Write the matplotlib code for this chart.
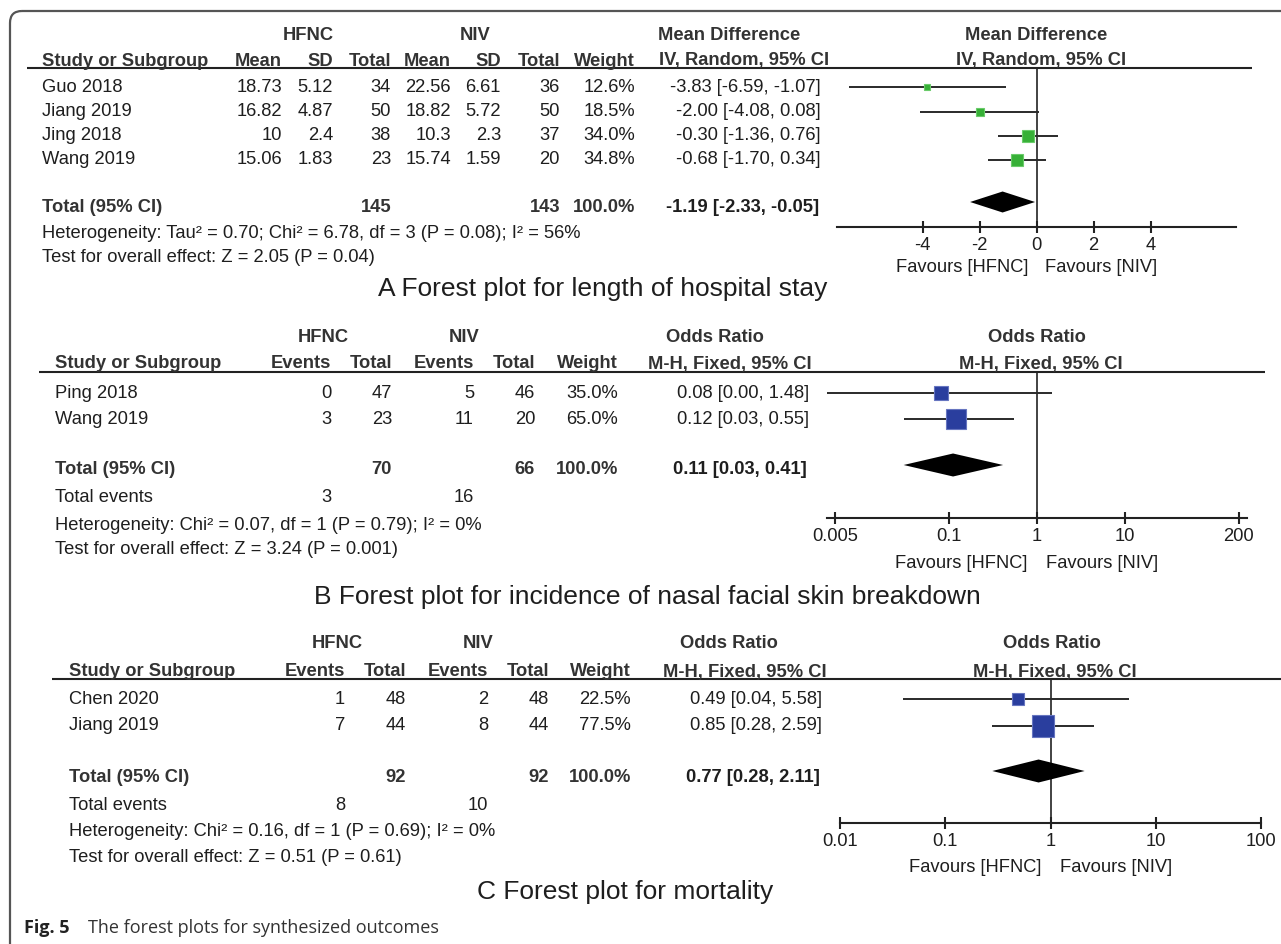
import numpy as np
import matplotlib
matplotlib.use("Agg")
from matplotlib import pyplot as plt
from matplotlib.patches import FancyBboxPatch
from matplotlib.ticker import NullLocator

# ---- data: A, length of hospital stay (mean difference) ----
a_study = ["Guo 2018", "Jiang 2019", "Jing 2018", "Wang 2019"]
a_hfnc_mean = [18.73, 16.82, 10, 15.06]
a_hfnc_sd = [5.12, 4.87, 2.4, 1.83]
a_hfnc_n = [34, 50, 38, 23]
a_niv_mean = [22.56, 18.82, 10.3, 15.74]
a_niv_sd = [6.61, 5.72, 2.3, 1.59]
a_niv_n = [36, 50, 37, 20]
a_weight = [12.6, 18.5, 34.0, 34.8]
a_md = [-3.83, -2.00, -0.30, -0.68]
a_lo = [-6.59, -4.08, -1.36, -1.70]
a_hi = [-1.07, 0.08, 0.76, 0.34]
a_total = (145, 143, -1.19, -2.33, -0.05)
a_het = "Heterogeneity: Tau² = 0.70; Chi² = 6.78, df = 3 (P = 0.08); I² = 56%"
a_test = "Test for overall effect: Z = 2.05 (P = 0.04)"
a_ticks = [-4, -2, 0, 2, 4]

# ---- data: B, nasal facial skin breakdown (odds ratio) ----
b_study = ["Ping 2018", "Wang 2019"]
b_hfnc_ev = [0, 3]
b_hfnc_n = [47, 23]
b_niv_ev = [5, 11]
b_niv_n = [46, 20]
b_weight = [35.0, 65.0]
b_or = [0.08, 0.12]
b_lo = [0.00, 0.03]
b_hi = [1.48, 0.55]
b_total = (70, 66, 0.11, 0.03, 0.41)
b_events = (3, 16)
b_het = "Heterogeneity: Chi² = 0.07, df = 1 (P = 0.79); I² = 0%"
b_test = "Test for overall effect: Z = 3.24 (P = 0.001)"
b_ticks = [0.005, 0.1, 1, 10, 200]
b_ticklabels = ["0.005", "0.1", "1", "10", "200"]

# ---- data: C, mortality (odds ratio) ----
c_study = ["Chen 2020", "Jiang 2019"]
c_hfnc_ev = [1, 7]
c_hfnc_n = [48, 44]
c_niv_ev = [2, 8]
c_niv_n = [48, 44]
c_weight = [22.5, 77.5]
c_or = [0.49, 0.85]
c_lo = [0.04, 0.28]
c_hi = [5.58, 2.59]
c_total = (92, 92, 0.77, 0.28, 2.11)
c_events = (8, 10)
c_het = "Heterogeneity: Chi² = 0.16, df = 1 (P = 0.69); I² = 0%"
c_test = "Test for overall effect: Z = 0.51 (P = 0.61)"
c_ticks = [0.01, 0.1, 1, 10, 100]
c_ticklabels = ["0.01", "0.1", "1", "10", "100"]

W, H = 1281, 944
FAM = ["Liberation Sans Narrow", "Liberation Sans", "DejaVu Sans"]
FS = 13.2
CAPFS = 19
TXT = "#1e1e1e"
HDR = "#333333"
GREEN, GREEN_E = "#37b037", "#6acb6a"
BLUE, BLUE_E = "#2a3e9e", "#6675c0"

fig = plt.figure(figsize=(W / 100, H / 100), dpi=100)
base = fig.add_axes([0, 0, 1, 1])
base.set_xlim(0, W)
base.set_ylim(H, 0)
base.axis("off")

border = FancyBboxPatch((10, 11), W + 40, H + 40, boxstyle="round,pad=0,rounding_size=12",
                        fc="none", ec="#555555", lw=1.6)
base.add_patch(border)


def T(x, y, s, ha="left", bold=False, size=FS, color=None, family=FAM):
    base.text(x, y, s, ha=ha, va="center", fontsize=size, family=family,
              fontweight="bold" if bold else "normal",
              color=color or (HDR if bold else TXT))


def hline(x0, x1, y):
    base.plot([x0, x1], [y, y], color="#222222", lw=1.5, solid_capstyle="butt")


def forest_ax(x0, x1, ytop, ybot, xlim, log, ticks, labels):
    ax = fig.add_axes([x0 / W, 1 - ybot / H, (x1 - x0) / W, (ybot - ytop) / H])
    if log:
        ax.set_xscale("log")
    ax.set_xlim(*xlim)
    ax.set_ylim(ybot, ytop)
    ax.patch.set_alpha(0)
    for s in ["left", "right", "top"]:
        ax.spines[s].set_visible(False)
    ax.spines["bottom"].set_linewidth(1.5)
    ax.spines["bottom"].set_color("#222222")
    ax.set_yticks([])
    ax.set_xticks(ticks)
    ax.set_xticklabels(labels, family=FAM, fontsize=FS, color=TXT)
    ax.xaxis.set_minor_locator(NullLocator())
    ax.tick_params(axis="x", direction="inout", length=8.5, width=1.5, color="#222222", pad=3)
    ax.axvline(1 if log else 0, color="#222222", lw=1.2)
    return ax


def draw_studies(ax, est, lo, hi, weight, rows, k, fc, ec):
    xmin = ax.get_xlim()[0]
    for e, l, h, w, y in zip(est, lo, hi, weight, rows):
        ax.plot([max(l, xmin), h], [y, y], color="#2a2a2a", lw=1.4, solid_capstyle="butt", zorder=2)
        ax.plot(e, y, marker="s", ms=k * np.sqrt(w) * 0.72, mfc=fc, mec=ec, mew=0.8, zorder=3)


def diamond(ax, c, l, h, y, ht):
    ax.fill([l, c, h, c], [y, y - ht / 2, y, y + ht / 2], color="black", lw=0, zorder=3)


def ci_text(e, l, h):
    return f"{e:.2f} [{l:.2f}, {h:.2f}]"


# ================= Panel A =================
rows = [87, 112, 136, 160]
T(308, 36, "HFNC", "center", True)
T(475, 36, "NIV", "center", True)
T(729, 36, "Mean Difference", "center", True)
T(1036, 36, "Mean Difference", "center", True)
cols = [282, 333, 391, 451, 501, 560, 635]
T(42, 61, "Study or Subgroup", bold=True)
for x, s in zip(cols, ["Mean", "SD", "Total", "Mean", "SD", "Total", "Weight"]):
    T(x, 61, s, "right", True)
T(744, 61, "IV, Random, 95% CI", "center", True)
T(1041, 61, "IV, Random, 95% CI", "center", True)
hline(27, 1252, 68)
for i, y in enumerate(rows):
    T(42, y, a_study[i])
    vals = [f"{a_hfnc_mean[i]:g}", f"{a_hfnc_sd[i]:g}", str(a_hfnc_n[i]),
            f"{a_niv_mean[i]:g}", f"{a_niv_sd[i]:g}", str(a_niv_n[i]), f"{a_weight[i]:.1f}%"]
    for x, s in zip(cols, vals):
        T(x, y, s, "right")
    T(821, y, ci_text(a_md[i], a_lo[i], a_hi[i]), "right")
T(42, 207, "Total (95% CI)", bold=True)
T(391, 207, str(a_total[0]), "right", True)
T(560, 207, str(a_total[1]), "right", True)
T(635, 207, "100.0%", "right", True)
T(819, 207, ci_text(*a_total[2:]), "right", True, color=TXT)
T(42, 233, a_het)
T(42, 257, a_test)
T(378, 289, "A Forest plot for length of hospital stay", size=CAPFS)

axA = forest_ax(837, 1236, 68, 227, (-7, 7), False, a_ticks, [str(t) for t in a_ticks])
draw_studies(axA, a_md, a_lo, a_hi, a_weight, rows, 1.95, GREEN, GREEN_E)
diamond(axA, a_total[2], a_total[3], a_total[4], 202, 21)
T(1028, 267, "Favours [HFNC]", "right")
T(1045, 267, "Favours [NIV]")

# ================= Panel B =================
rows = [393, 419]
T(323, 338, "HFNC", "center", True)
T(464, 338, "NIV", "center", True)
T(715, 338, "Odds Ratio", "center", True)
T(1037, 338, "Odds Ratio", "center", True)
cols = [331, 392, 474, 535, 618]
T(55, 364, "Study or Subgroup", bold=True)
for x, s in zip(cols, ["Events", "Total", "Events", "Total", "Weight"]):
    T(x, 364, s, "right", True)
T(730, 364, "M-H, Fixed, 95% CI", "center", True)
T(1041, 364, "M-H, Fixed, 95% CI", "center", True)
hline(39, 1265, 372)
for i, y in enumerate(rows):
    T(55, y, b_study[i])
    vals = [str(b_hfnc_ev[i]), str(b_hfnc_n[i]), str(b_niv_ev[i]), str(b_niv_n[i]),
            f"{b_weight[i]:.1f}%"]
    for x, s in zip(cols, vals):
        T(x, y, s, "right")
    T(809, y, ci_text(b_or[i], b_lo[i], b_hi[i]), "right")
T(55, 470, "Total (95% CI)", bold=True)
T(392, 470, str(b_total[0]), "right", True)
T(535, 470, str(b_total[1]), "right", True)
T(618, 470, "100.0%", "right", True)
T(807, 470, ci_text(*b_total[2:]), "right", True, color=TXT)
T(55, 498, "Total events")
T(331, 498, str(b_events[0]), "right")
T(474, 498, str(b_events[1]), "right")
T(55, 525, b_het)
T(55, 550, b_test)
T(314, 597, "B Forest plot for incidence of nasal facial skin breakdown", size=CAPFS)

axB = forest_ax(827, 1247, 372, 518, (0.004, 250), True, b_ticks, b_ticklabels)
draw_studies(axB, b_or, b_lo, b_hi, b_weight, rows, 2.45, BLUE, BLUE_E)
diamond(axB, b_total[2], b_total[3], b_total[4], 465, 23)
T(1027, 563, "Favours [HFNC]", "right")
T(1046, 563, "Favours [NIV]")

# ================= Panel C =================
rows = [699, 726]
T(337, 644, "HFNC", "center", True)
T(478, 644, "NIV", "center", True)
T(729, 644, "Odds Ratio", "center", True)
T(1052, 644, "Odds Ratio", "center", True)
cols = [345, 406, 488, 549, 631]
T(69, 672, "Study or Subgroup", bold=True)
for x, s in zip(cols, ["Events", "Total", "Events", "Total", "Weight"]):
    T(x, 672, s, "right", True)
T(745, 672, "M-H, Fixed, 95% CI", "center", True)
T(1055, 672, "M-H, Fixed, 95% CI", "center", True)
hline(52, 1281, 679)
for i, y in enumerate(rows):
    T(69, y, c_study[i])
    vals = [str(c_hfnc_ev[i]), str(c_hfnc_n[i]), str(c_niv_ev[i]), str(c_niv_n[i]),
            f"{c_weight[i]:.1f}%"]
    for x, s in zip(cols, vals):
        T(x, y, s, "right")
    T(822, y, ci_text(c_or[i], c_lo[i], c_hi[i]), "right")
T(69, 777, "Total (95% CI)", bold=True)
T(406, 777, str(c_total[0]), "right", True)
T(549, 777, str(c_total[1]), "right", True)
T(631, 777, "100.0%", "right", True)
T(820, 777, ci_text(*c_total[2:]), "right", True, color=TXT)
T(69, 805, "Total events")
T(345, 805, str(c_events[0]), "right")
T(488, 805, str(c_events[1]), "right")
T(69, 832, c_het)
T(69, 857, c_test)
T(477, 892, "C Forest plot for mortality", size=CAPFS)

axC = forest_ax(840, 1261, 679, 823, (0.01, 100), True, c_ticks, c_ticklabels)
draw_studies(axC, c_or, c_lo, c_hi, c_weight, rows, 2.6, BLUE, BLUE_E)
diamond(axC, c_total[2], c_total[3], c_total[4], 771, 23)
T(1041, 868, "Favours [HFNC]", "right")
T(1060, 868, "Favours [NIV]")

# figure caption
CAP = ["Open Sans", "DejaVu Sans"]
T(24, 928, "Fig. 5", bold=True, size=13, color="#222222", family=CAP)
T(88, 928, "The forest plots for synthesized outcomes", size=13, color="#333333", family=CAP)

fig.savefig("out.png", dpi=100)
